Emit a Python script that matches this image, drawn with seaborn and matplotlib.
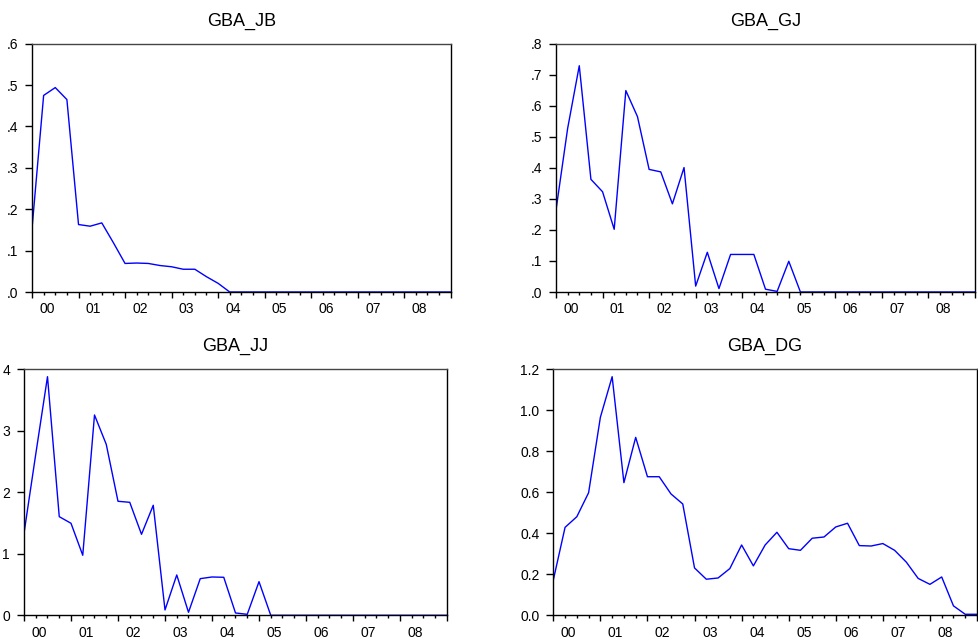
import numpy as np
import pandas as pd
import matplotlib
matplotlib.use("Agg")
import matplotlib.pyplot as plt
import seaborn as sns

# Quarterly observations 2000Q1 .. 2009Q1 (37 points)
gba_jb = [0.153, 0.475, 0.494, 0.465, 0.163, 0.159, 0.167, 0.119, 0.069, 0.070,
          0.069, 0.064, 0.061, 0.055, 0.055, 0.037, 0.021, 0.0] + [0.0] * 19
gba_gj = [0.264, 0.527, 0.729, 0.363, 0.323, 0.202, 0.649, 0.565, 0.395, 0.387,
          0.284, 0.401, 0.019, 0.128, 0.011, 0.121, 0.121, 0.121, 0.009, 0.002,
          0.099, 0.0] + [0.0] * 15
gba_jj = [1.333, 2.62, 3.88, 1.604, 1.496, 0.976, 3.257, 2.78, 1.854, 1.837,
          1.317, 1.789, 0.087, 0.656, 0.049, 0.596, 0.623, 0.618, 0.038, 0.016,
          0.547, 0.0] + [0.0] * 15
gba_dg = [0.172, 0.429, 0.481, 0.598, 0.966, 1.164, 0.647, 0.868, 0.676, 0.676,
          0.592, 0.543, 0.231, 0.176, 0.182, 0.228, 0.343, 0.241, 0.343, 0.405,
          0.325, 0.317, 0.376, 0.382, 0.431, 0.449, 0.340, 0.338, 0.350, 0.317,
          0.259, 0.180, 0.151, 0.187, 0.046, 0.005, 0.005]

titles = ["GBA_JB", "GBA_GJ", "GBA_JJ", "GBA_DG"]
year_labels = ["00", "01", "02", "03", "04", "05", "06", "07", "08"]
ytick_vals = [[0, .1, .2, .3, .4, .5, .6],
              [0, .1, .2, .3, .4, .5, .6, .7, .8],
              [0, 1, 2, 3, 4],
              [0, .2, .4, .6, .8, 1.0, 1.2]]
ytick_labels = [[".0", ".1", ".2", ".3", ".4", ".5", ".6"],
                [".0", ".1", ".2", ".3", ".4", ".5", ".6", ".7", ".8"],
                ["0", "1", "2", "3", "4"],
                ["0.0", "0.2", "0.4", "0.6", "0.8", "1.0", "1.2"]]
series = [gba_jb, gba_gj, gba_jj, gba_dg]

sns.set_theme(style="white")
plt.rcParams['font.family'] = ['Liberation Sans', 'DejaVu Sans']
plt.rcParams['text.color'] = 'black'
plt.rcParams['xtick.color'] = 'black'
plt.rcParams['ytick.color'] = 'black'
plt.rcParams['axes.titlecolor'] = 'black'

W, H = 979, 641
fig = plt.figure(figsize=(W / 100, H / 100), dpi=100)

boxes = [(32, 450.7, 43.7, 292), (556, 975, 43.7, 292),
         (24, 447, 369.3, 615.3), (553.3, 977, 369.3, 615.3)]

n = len(gba_dg)
for i, (l, r, t, b) in enumerate(boxes):
    ax = fig.add_axes([l / W, (H - b) / H, (r - l) / W, (b - t) / H])
    df = pd.DataFrame({"q": np.arange(len(series[i])), "v": series[i]})
    sns.lineplot(data=df, x="q", y="v", ax=ax, color="#0000FF", linewidth=1.0)
    ax.set_xlim(0, n - 1)
    ax.set_ylim(ytick_vals[i][0], ytick_vals[i][-1])
    ax.set_xlabel("")
    ax.set_ylabel("")
    ax.set_title(titles[i], fontsize=13, pad=13, color="black")
    # x ticks: major every year, minor every quarter, labels offset into year
    ax.set_xticks(np.arange(0, n, 4))
    ax.set_xticks(np.arange(0, n, 1), minor=True)
    ax.set_xticklabels([])
    ax.tick_params(axis="x", which="major", direction="out", length=4.5,
                   width=1.0, color="black", bottom=True)
    ax.tick_params(axis="x", which="minor", direction="out", length=2.5,
                   width=1.0, color="black", bottom=True)
    for k, lab in enumerate(year_labels):
        ax.annotate(lab, xy=(4 * k + 1.3, 0), xycoords=("data", "axes fraction"),
                    xytext=(0, -7.5), textcoords="offset points",
                    ha="center", va="top", fontsize=10, color="black")
    ax.set_yticks(ytick_vals[i])
    ax.set_yticklabels(ytick_labels[i], fontsize=10)
    ax.tick_params(axis="y", direction="out", length=5, width=1.0,
                   color="black", left=True, pad=5)
    for s in ["left", "bottom", "right"]:
        ax.spines[s].set_color("black")
        ax.spines[s].set_linewidth(1.0)
    ax.spines["top"].set_color("#444444")
    ax.spines["top"].set_linewidth(1.0)
    ax.grid(False)

fig.savefig("out.png", dpi=100)
